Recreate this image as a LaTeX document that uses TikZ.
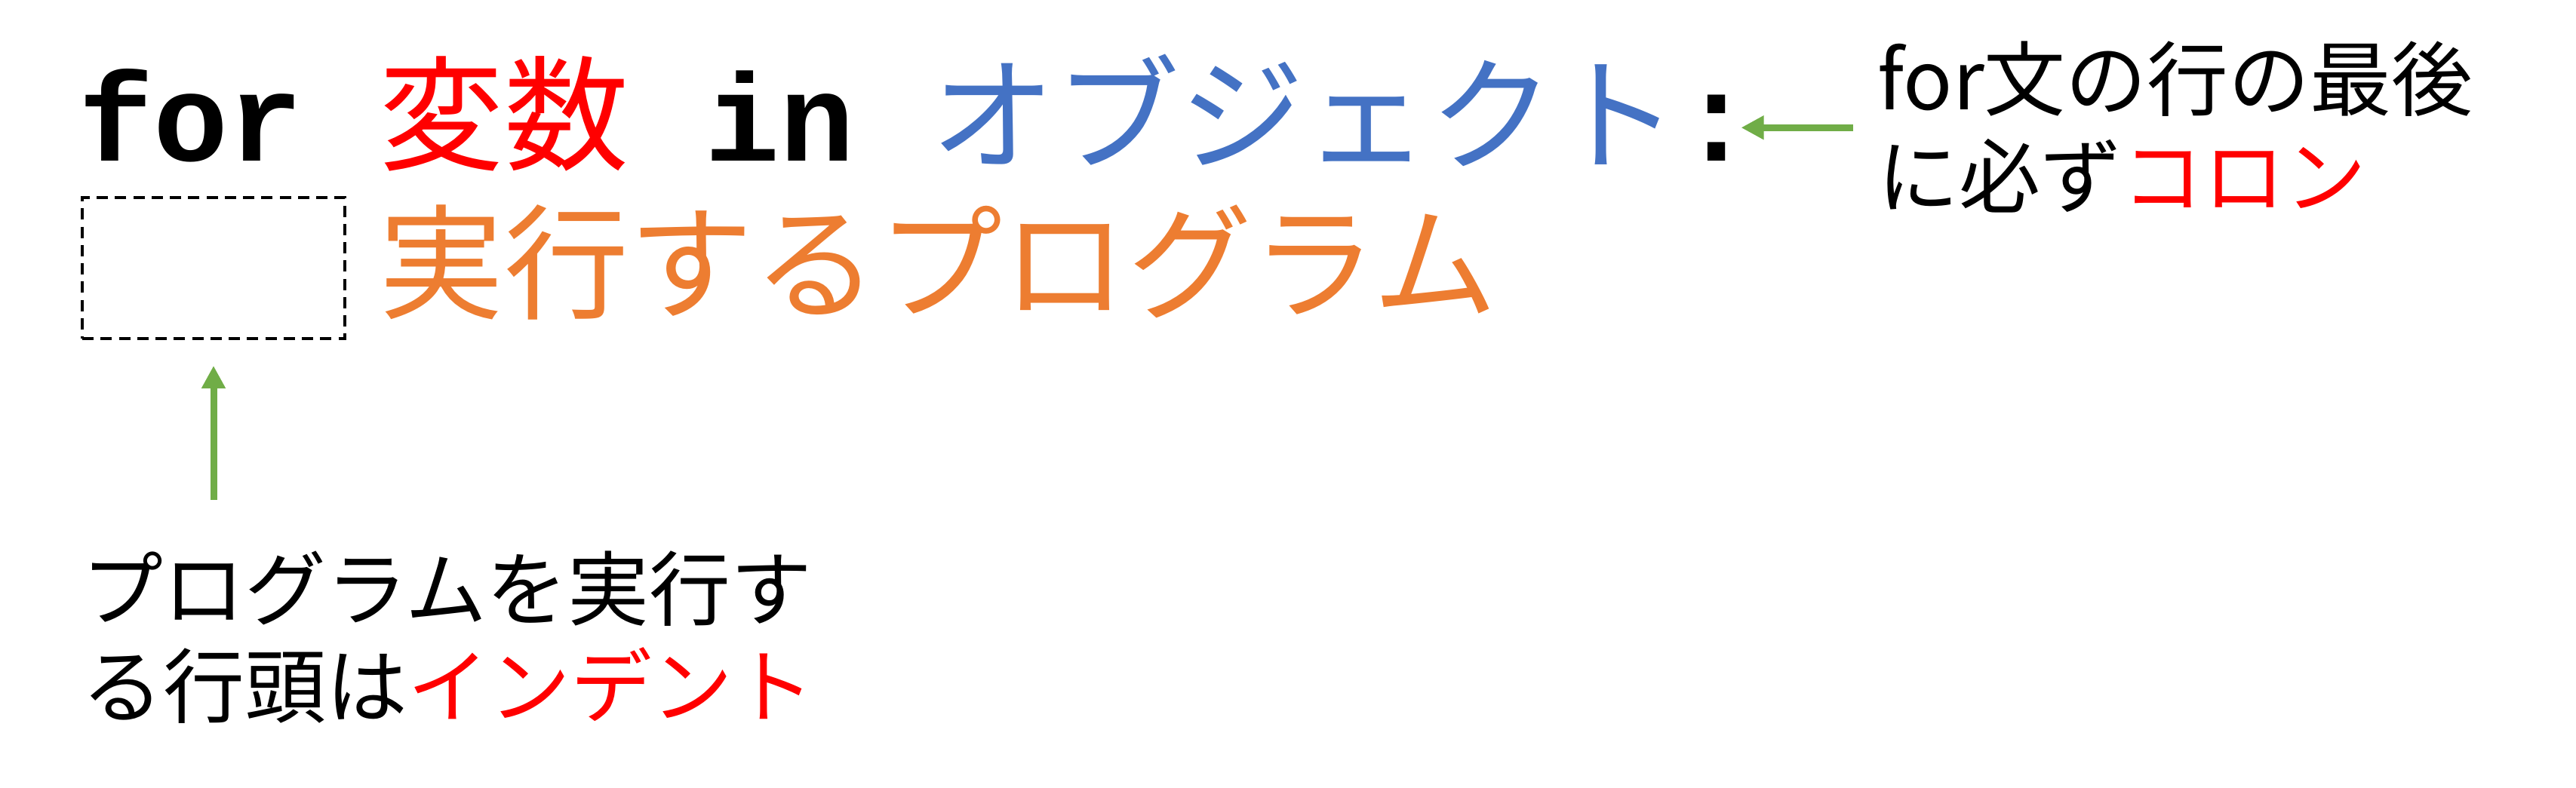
\documentclass[tikz,border=0pt]{standalone}
\usepackage{fontspec}
\setmonofont{Liberation Mono}
\newfontfamily\jpfont{Noto Sans CJK JP}
\usepackage{xcolor}
\usetikzlibrary{arrows.meta, positioning}

\definecolor{kwred}{HTML}{FF0000}
\definecolor{objblue}{HTML}{4472C4}
\definecolor{progorange}{HTML}{ED7D31}
\definecolor{markgreen}{HTML}{70AD47}
\newcommand{\monogap}{0.995cm}

\begin{document}
\begin{tikzpicture}[
  code/.style={inner sep=0, anchor=base west},
  kw/.style={code, font=\fontsize{47}{56}\selectfont\ttfamily\bfseries},
  cjk/.style={code, font=\fontsize{47}{56}\selectfont\jpfont},
  note/.style={inner sep=0, align=left, font=\fontsize{30.7}{36.5}\selectfont\jpfont},
  indentbox/.style={draw, line width=0.04cm, dash pattern=on 4.3pt off 2.6pt, inner sep=0},
  pointer/.style={-{Triangle[length=0.3cm, width=0.3cm]}, line width=0.09cm, markgreen},
]
\useasboundingbox (0,0) rectangle (34.14,-10.45);

% ============ LINE 1: for header ============
\node[kw] (kwfor) at (1.04,-2.13) {for};
\node[cjk, text=kwred] (var) at ([xshift=\monogap]kwfor.base east) {変数};
\node[kw] (kwin) at ([xshift=\monogap]var.base east) {in};
\node[cjk, text=objblue] (obj) at ([xshift=\monogap]kwin.base east) {オブジェクト};
\node[kw] (colon) at (obj.base east) {:};

% ============ LINE 2: body ============
\node[indentbox, minimum width=3.48cm, minimum height=1.87cm, anchor=north west] (indent) at (1.07,-2.60) {};
\node[cjk, text=progorange] (body) at (var.base west |- 0,-4.10) {実行するプログラム};

% ============ NOTES ============
% base anchor sits on the last line
\node[note, anchor=base west] (colonnote) at (24.88,-2.74)
  {for文の行の最後\\に必ず{\color{kwred}コロン}};
\draw[pointer] ([xshift=-0.32cm]colon -| colonnote.west) -- ([xshift=0.32cm]colon.center);

\node[note, anchor=base west] (indentnote) at (1.08,-9.50)
  {プログラムを実行す\\る行頭は{\color{kwred}インデント}};
\coordinate (indenttail) at (indent.south |- 0,-6.63);
\draw[pointer] (indenttail) -- ([yshift=-0.34cm]indent.south);

\end{tikzpicture}
\end{document}
